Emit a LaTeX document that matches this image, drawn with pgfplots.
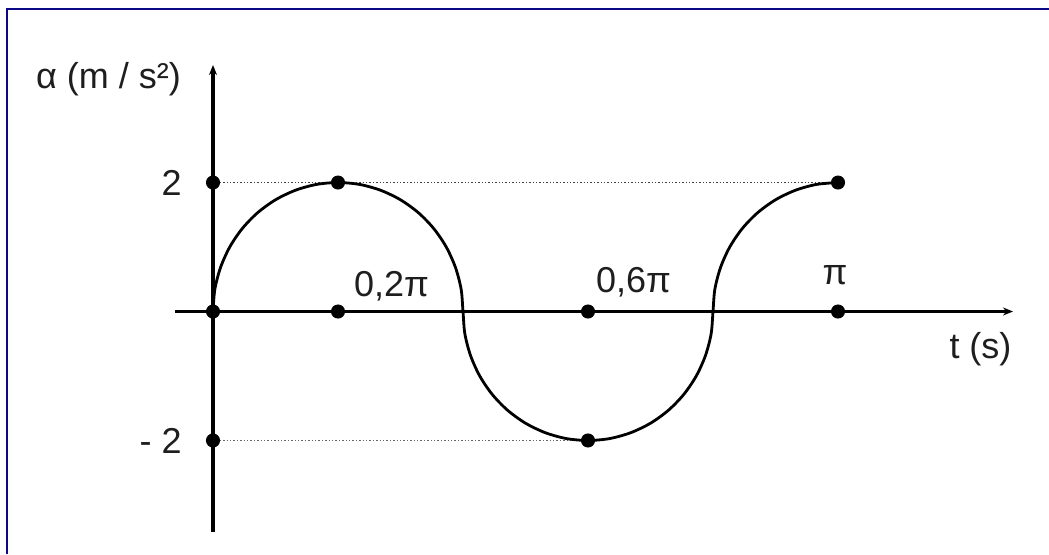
\documentclass[border=0pt]{standalone}
\usepackage{fontspec}
\setmainfont{Liberation Sans}
\usepackage{pgfplots}
\pgfplotsset{compat=1.18}
\usetikzlibrary{arrows.meta}
\definecolor{framenavy}{RGB}{10,10,135}
\definecolor{inkgray}{RGB}{30,30,30}
\tikzset{lbl/.style={font=\fontsize{18}{21}\selectfont, text=inkgray, inner sep=0pt}}

\begin{document}
\begin{tikzpicture}[x=1pt,y=1pt]
% page area and the framing rule along the top and left edges
\path[use as bounding box] (0,0) rectangle (524.5,277);
\fill[white] (0,0) rectangle (524.5,277);
\draw[framenavy, line width=1.1pt] (3.5,0) -- (3.5,272.4) -- (524.5,272.4);

\begin{axis}[
  at={(87.5pt,11pt)}, anchor=south west,
  scale only axis, width=419pt, height=233.5pt,
  xmin=-0.0608, xmax=1.28, ymin=-3.419, ymax=3.822,
  axis lines=middle,
  xtick=\empty, ytick=\empty,
  clip=false,
  axis line style={line width=1.9pt, black},
  x axis line style={-{Stealth[length=5pt,width=4pt]}},
  y axis line style={-{Stealth[length=5pt,width=4pt]}},
]
% guide lines to the extreme values
\addplot[densely dotted, line width=0.7pt, black!75] coordinates {(0,2) (1,2)};
\addplot[densely dotted, line width=0.7pt, black!60] coordinates {(0,-2) (0.6,-2)};

% acceleration curve (t in units of pi)
\addplot[smooth, line width=1.4pt, black] coordinates {
  (0,0) (0.0030,0.347) (0.0121,0.684) (0.0268,1.0) (0.0468,1.286)
  (0.0714,1.532) (0.1,1.732) (0.1316,1.879) (0.1653,1.970) (0.2,2)
  (0.2347,1.970) (0.2684,1.879) (0.3,1.732) (0.3286,1.532) (0.3532,1.286)
  (0.3732,1.0) (0.3879,0.684) (0.3970,0.347) (0.4,0)
  (0.4030,-0.347) (0.4121,-0.684) (0.4268,-1.0) (0.4468,-1.286) (0.4714,-1.532)
  (0.5,-1.732) (0.5316,-1.879) (0.5653,-1.970) (0.6,-2)
  (0.6347,-1.970) (0.6684,-1.879) (0.7,-1.732) (0.7286,-1.532) (0.7532,-1.286)
  (0.7732,-1.0) (0.7879,-0.684) (0.7970,-0.347) (0.8,0)
  (0.8030,0.347) (0.8121,0.684) (0.8268,1.0) (0.8468,1.286) (0.8714,1.532)
  (0.9,1.732) (0.9316,1.879) (0.9653,1.970) (1,2)
};

% marked points
\addplot[only marks, mark=*, mark size=3.3pt, black] coordinates {
  (0,0) (0.2,0) (0.6,0) (1,0) (0,2) (0.2,2) (1,2) (0,-2) (0.6,-2)
};

% labels
\node[lbl, anchor=base] at (axis cs:0.2856,0.225) {0,2π};
\node[lbl, anchor=base] at (axis cs:0.6728,0.302) {0,6π};
\node[lbl, anchor=base] at (axis cs:0.9952,0.426) {π};
\node[lbl, anchor=east] at (axis cs:-0.0496,2) {2};
\node[lbl, anchor=east] at (axis cs:-0.0496,-2) {- 2};
\node[lbl, anchor=base] at (axis cs:-0.1672,3.465) {α (m / s²)};
\node[lbl, anchor=base] at (axis cs:1.228,-0.721) {t (s)};
\end{axis}
\end{tikzpicture}
\end{document}
